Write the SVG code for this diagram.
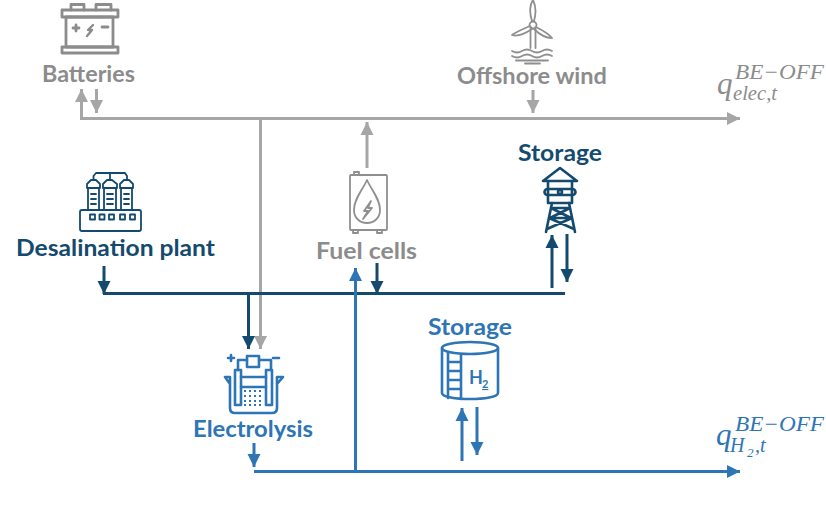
<svg xmlns="http://www.w3.org/2000/svg" width="826" height="509" viewBox="0 0 826 509">
<style>
.lb{font-family:"Lato","Liberation Sans",sans-serif;font-weight:700;font-size:23px}
.m{font-family:"Liberation Serif",serif;font-style:italic}
.g{fill:#8c8c8c}.d{fill:#144a6e}.b{fill:#2e75b6}
.ln{fill:none;stroke-width:3}
.ig{fill:none;stroke:#8c8c8c;stroke-width:2.8;stroke-linejoin:round;stroke-linecap:round}
.ig2{fill:none;stroke:#8f8f8f;stroke-width:1.8;stroke-linejoin:round;stroke-linecap:round}
.id{fill:none;stroke:#144a6e;stroke-width:2.6;stroke-linejoin:round;stroke-linecap:round}
.ds{fill:none;stroke:#144a6e;stroke-width:1.8;stroke-linejoin:round;stroke-linecap:round}
.ib{fill:none;stroke:#2e75b6;stroke-width:2.6;stroke-linejoin:round;stroke-linecap:round}
</style>
<defs>
<marker id="ag" markerUnits="userSpaceOnUse" markerWidth="14" markerHeight="14" refX="13" refY="7" orient="auto"><path d="M0 0.500L13 7L0 13.500z" fill="#a6a6a6"/></marker>
<marker id="ad" markerUnits="userSpaceOnUse" markerWidth="14" markerHeight="14" refX="13" refY="7" orient="auto"><path d="M0 0.500L13 7L0 13.500z" fill="#144a6e"/></marker>
<marker id="ab" markerUnits="userSpaceOnUse" markerWidth="14" markerHeight="14" refX="13" refY="7" orient="auto"><path d="M0 0.500L13 7L0 13.500z" fill="#2e75b6"/></marker>
</defs>
<g id="connectors">
<g stroke="#a6a6a6" class="ln">
<path d="M81.500 120V89" marker-end="url(#ag)"/>
<path d="M80 118.500H740" marker-end="url(#ag)"/>
<path d="M96.500 89V113" marker-end="url(#ag)"/>
<path d="M533 90V113" marker-end="url(#ag)"/>
<path d="M367 168V122" marker-end="url(#ag)"/>
<path d="M260.500 118.500V349" marker-end="url(#ag)"/>
</g>
<g stroke="#144a6e" class="ln">
<path d="M103 293.500H565"/>
<path d="M104 266V294" marker-end="url(#ad)"/>
<path d="M377 263V294" marker-end="url(#ad)"/>
<path d="M248.500 293V349" marker-end="url(#ad)"/>
<path d="M552 288V235" marker-end="url(#ad)"/>
<path d="M567 234V282" marker-end="url(#ad)"/>
</g>
<g stroke="#2e75b6" class="ln">
<path d="M254 471.500H740" marker-end="url(#ab)"/>
<path d="M355.500 471V268" marker-end="url(#ab)"/>
<path d="M254 443V467" marker-end="url(#ab)"/>
<path d="M462 461V408" marker-end="url(#ab)"/>
<path d="M477 407V455" marker-end="url(#ab)"/>
</g>
</g>
<g id="batteries">
<g class="ig">
<path d="M71 10V4.500H84V10M96 10V4.500H111V10"/>
<rect x="62" y="10" width="56" height="7"/>
<rect x="66" y="17" width="47" height="30"/>
<rect x="62" y="47" width="56" height="6"/>
<path d="M73 28H79M76 25V31M102 27H108"/>
<path d="M93 25L88 30H92L87 36" stroke-width="2.400"/>
</g>
<text class="lb g" x="42" y="82" textLength="93" lengthAdjust="spacingAndGlyphs">Batteries</text>
</g>
<g id="offshore-wind">
<g class="ig2">
<circle cx="533" cy="25" r="3.500"/>
<path d="M532 21C529 12 530 4 533 0C536 6 536 14 534 21Z"/>
<path d="M530 26C523 29 516 32 512 35C518 37 526 33 532 29Z"/>
<path d="M536 27C542 30 548 33 552 38C545 38 539 34 534 29Z"/>
<path d="M530.500 29V48M535.500 29V48"/>
<path d="M512 51Q517 54 522 51T532 51T542 51T552 51M512 56Q517 59 522 56T532 56T542 56T552 56M516 60.500H548M525 63.500H540"/>
</g>
<text class="lb g" x="457" y="84" textLength="150" lengthAdjust="spacingAndGlyphs">Offshore wind</text>
</g>
<g id="q-elec">
<text class="m" x="717" y="94" font-size="31" fill="#8c8c8c">q</text>
<text class="m" x="735" y="79" font-size="21" fill="#8c8c8c" textLength="89" lengthAdjust="spacingAndGlyphs">BE−OFF</text>
<text class="m" x="733" y="100" font-size="20" fill="#8c8c8c" textLength="44" lengthAdjust="spacingAndGlyphs">elec,t</text>
</g>
<g id="desalination-plant">
<g class="ds">
<rect x="80" y="210" width="61" height="21" rx="2"/>
<path d="M90 214.500h5v5h-5zM99.500 214.500h5v5h-5zM109 214.500h5v5h-5zM120 214.500h5v5h-5zM130 214.500h5v5h-5z"/>
<path d="M88 209V188H99V209M104 209V188H116V209M121 209V188H132V209"/>
<path d="M87 188V184L91 180H96L100 184V188ZM103 188V184L107 180H112L117 184V188ZM120 188V184L124 180H129L133 184V188Z"/>
<path d="M93.500 180V176L96 173H125L127 176V180M110 180V173"/>
<path d="M91 194H96M91 199H96M91 204H96M107 194H113M107 199H113M107 204H113M124 194H129M124 199H129M124 204H129"/>
</g>
<text class="lb d" x="16" y="256" textLength="199" lengthAdjust="spacingAndGlyphs">Desalination plant</text>
</g>
<g id="fuel-cells">
<g class="ig2">
<rect x="350" y="175" width="37" height="55" rx="1"/>
<path d="M354 175V172H359V175M353 230V233H358V230M377 230V233H382V230"/>
<path d="M367 180C362 191 354 199 354 210C354 218 360 223 367 223C374 223 380 218 380 210C380 199 372 191 367 180Z"/>
<path d="M371 201L364 211H368L363 219L372 208H368Z"/>
</g>
<text class="lb g" x="316" y="259" textLength="101" lengthAdjust="spacingAndGlyphs">Fuel cells</text>
</g>
<g id="storage-water">
<g class="id">
<path d="M543 181L560 168L577 181Z"/>
<path d="M548 181V203H572V181"/>
<rect x="544.500" y="189" width="31" height="6" rx="3"/>
<circle cx="560" cy="192" r="2"/>
<path d="M552 203L546 232M569 203L575 232M551 208H570M549 218H572M551 208L571 218M570 208L550 218M549 218L574 229M572 218L547 229"/>
</g>
<text class="lb d" x="518" y="161" textLength="84" lengthAdjust="spacingAndGlyphs">Storage</text>
</g>
<g id="electrolysis">
<g class="ib">
<path d="M228 358H234M231 355V361M273 358H279"/>
<rect x="247" y="356" width="12" height="11"/>
<path d="M247 360H238V370M259 360H271V370"/>
<rect x="235" y="370" width="6" height="35"/>
<rect x="266" y="370" width="6" height="35"/>
<path d="M225 377H230V408Q230 413 235 413H272Q277 413 277 408V377H283L277 384M225 377L230 384"/>
<path d="M241 377H266M241 387H266"/>
</g>
<g fill="#2e75b6">
<path d="M244 390h2v2h-2zM249 390h2v2h-2zM254 390h2v2h-2zM259 390h2v2h-2zM244 395h2v2h-2zM249 395h2v2h-2zM254 395h2v2h-2zM259 395h2v2h-2zM244 400h2v2h-2zM249 400h2v2h-2zM254 400h2v2h-2zM259 400h2v2h-2zM244 404h2v2h-2zM249 404h2v2h-2zM254 404h2v2h-2zM259 404h2v2h-2z"/>
</g>
<text class="lb b" x="193" y="437" textLength="120" lengthAdjust="spacingAndGlyphs">Electrolysis</text>
</g>
<g id="storage-h2">
<g class="ib">
<ellipse cx="470" cy="348" rx="28" ry="6"/>
<path d="M442 348V393C442 401 498 401 498 393V348"/>
<path d="M448 353V398M461 354V399M448 362H461M448 371H461M448 380H461M448 389H461"/>
</g>
<text x="469" y="384" font-family="Lato,'Liberation Sans',sans-serif" font-weight="700" font-size="18" fill="#2e75b6">H</text>
<text x="482" y="388" font-family="Lato,'Liberation Sans',sans-serif" font-weight="700" font-size="11" fill="#2e75b6" text-decoration="underline">2</text>
<text class="lb b" x="428" y="335" textLength="84" lengthAdjust="spacingAndGlyphs">Storage</text>
</g>
<g id="q-h2">
<text class="m" x="716" y="445" font-size="31" fill="#2e75b6">q</text>
<text class="m" x="735" y="431" font-size="21" fill="#2e75b6" textLength="89" lengthAdjust="spacingAndGlyphs">BE−OFF</text>
<text class="m" x="730" y="452" font-size="20" fill="#2e75b6">H</text>
<text class="m" x="747" y="457" font-size="13" fill="#2e75b6" font-style="normal">2</text>
<text class="m" x="755" y="452" font-size="20" fill="#2e75b6">,t</text>
</g>
</svg>
